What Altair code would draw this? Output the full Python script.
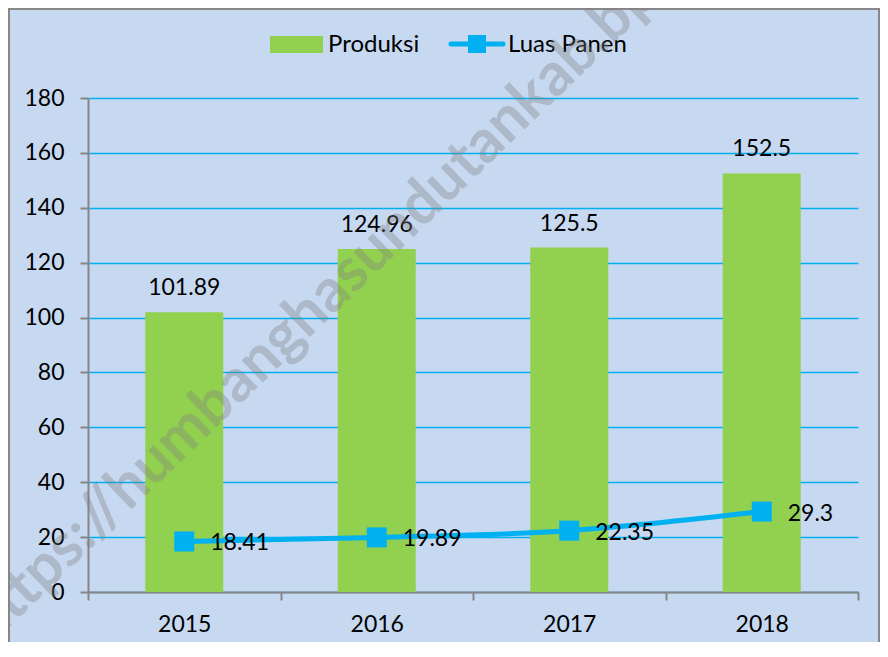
import altair as alt
import pandas as pd

years = ["2015", "2016", "2017", "2018"]
produksi = [101.89, 124.96, 125.5, 152.5]
luas_panen = [18.41, 19.89, 22.35, 29.3]
y_ticks = [0, 20, 40, 60, 80, 100, 120, 140, 160, 180]
legend_labels = ["Produksi", "Luas Panen"]
watermark = "https://humbanghasundutankab.bps.go.id"

FONT = "Lato"
GREEN = "#92D050"
BLUE = "#00B0F0"
GRAY = "#868686"

df = pd.DataFrame({"year": years, "produksi": produksi, "luas": luas_panen})
one = pd.DataFrame({"k": [0]})

xenc = alt.X("year:N", sort=years, title=None,
             scale=alt.Scale(paddingInner=0, paddingOuter=0),
             axis=alt.Axis(tickBand="extent", labelAngle=0, labelPadding=13,
                           grid=False, tickSize=8))
yscale = alt.Scale(domain=[0, 180], nice=False)

base = alt.Chart(df)

bars = base.mark_bar(color=GREEN, size=78).encode(
    x=xenc,
    y=alt.Y("produksi:Q", scale=yscale, title=None,
            axis=alt.Axis(values=y_ticks, grid=True, tickSize=8, labelPadding=16)),
)

bar_labels = base.mark_text(font=FONT, fontSize=23, color="black", dy=-17,
                            baseline="alphabetic").encode(
    x=alt.X("year:N", sort=years),
    y=alt.Y("produksi:Q", scale=yscale),
    text=alt.Text("produksi:Q"),
)

line = base.mark_line(color=BLUE, strokeWidth=5, interpolate="monotone").encode(
    x=alt.X("year:N", sort=years),
    y=alt.Y("luas:Q", scale=yscale),
)

points = base.mark_square(color=BLUE, size=400, opacity=1).encode(
    x=alt.X("year:N", sort=years),
    y=alt.Y("luas:Q", scale=yscale),
)

line_labels = base.mark_text(font=FONT, fontSize=23, color="black", align="left",
                             baseline="middle", dx=26, dy=2).encode(
    x=alt.X("year:N", sort=years),
    y=alt.Y("luas:Q", scale=yscale),
    text=alt.Text("luas:Q"),
)

dec = alt.Chart(one)

border = dec.mark_rect(fillOpacity=0, stroke="#878787", strokeWidth=2).encode(
    x=alt.value(-79), x2=alt.value(791), y=alt.value(-89), y2=alt.value(640)
)

leg_rect = dec.mark_rect(color=GREEN).encode(
    x=alt.value(182), x2=alt.value(235), y=alt.value(-62), y2=alt.value(-45)
)
leg_text1 = dec.mark_text(font=FONT, fontSize=24, align="left", baseline="middle",
                          color="black").encode(
    x=alt.value(240), y=alt.value(-53), text=alt.value(legend_labels[0])
)
leg_line = dec.mark_rule(color=BLUE, strokeWidth=5, strokeCap="round").encode(
    x=alt.value(363), x2=alt.value(415), y=alt.value(-54)
)
leg_sq = dec.mark_square(color=BLUE, size=324, opacity=1).encode(
    x=alt.value(389), y=alt.value(-54)
)
leg_text2 = dec.mark_text(font=FONT, fontSize=24, align="left", baseline="middle",
                          color="black").encode(
    x=alt.value(420), y=alt.value(-53), text=alt.value(legend_labels[1])
)

wm = dec.mark_text(font=FONT, fontSize=60, fontWeight="bold", color="#7f7f7f",
                   opacity=0.35, angle=316, align="center", baseline="middle").encode(
    x=alt.value(286), y=alt.value(152), text=alt.value(watermark)
)

chart = alt.layer(
    border, bars, bar_labels, line, points, line_labels,
    leg_rect, leg_text1, leg_line, leg_sq, leg_text2, wm
).properties(
    width=770, height=494,
    padding={"left": 80, "top": 90, "right": 22, "bottom": 50},
    autosize=alt.AutoSizeParams(type="none"),
    background="#C6D9F1",
).configure_view(stroke=None).configure_axis(
    labelFont=FONT, labelFontSize=23, labelColor="black",
    domainColor=GRAY, domainWidth=2, tickColor=GRAY, tickWidth=2,
    gridColor=BLUE, gridWidth=1.5,
)

chart.save("out.html", embed_options={"renderer": "svg", "actions": False})
